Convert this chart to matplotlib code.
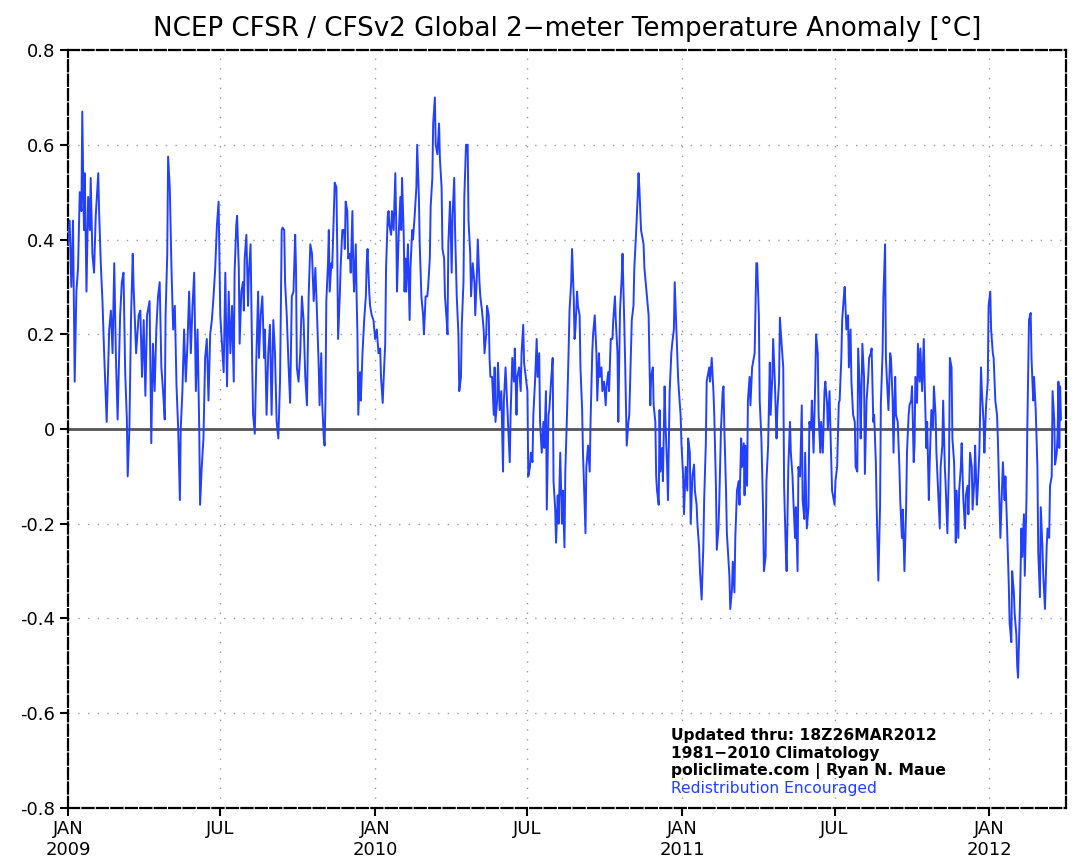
import matplotlib
matplotlib.use("Agg")
import matplotlib.pyplot as plt
import pandas as pd

# day offsets from 2009-01-01 and global 2 m temperature anomaly [degC]
days = [
    0, 2, 4, 6, 8, 10, 12, 14, 16, 17, 19, 20, 22, 24, 26, 27, 29, 31, 33, 36,
    37, 39, 41, 43, 46, 49, 51, 53, 55, 57, 59, 62, 64, 66, 68, 70, 71, 73, 75, 77,
    78, 81, 84, 86, 88, 90, 92, 94, 97,
    99, 101, 103, 105, 107, 109, 111, 113, 115, 116, 118, 119, 121, 123, 125, 127, 129, 131, 133, 134,
    136, 138, 140, 142, 144, 146, 148, 150, 152, 154, 156, 157, 159, 161, 163, 165, 167, 169, 171, 173,
    175, 177, 179, 181, 183, 185, 187, 189, 191, 193, 195,
    197, 198, 200, 201, 203, 204, 206, 208, 209, 210, 212, 214, 215, 217, 219, 220, 222, 224, 226, 227,
    229, 231, 233, 234, 236, 238, 240, 242, 244, 246, 248, 250, 252, 254, 255, 257, 258, 260, 262, 264,
    266, 268, 270, 271, 272, 274, 276, 278, 280, 282, 284, 286, 288, 290, 292, 294, 296, 298, 299,
    301, 302, 304, 305, 306, 307, 309, 310, 311, 313, 314, 316, 317, 319, 320, 321, 323, 324, 326, 328,
    329, 330, 332, 333, 335, 336, 338, 339, 340, 342, 343, 344, 345, 347, 348, 350, 352, 354, 355, 356,
    358, 359, 361, 363, 365, 367, 369, 371, 372, 374, 375, 377, 378, 380, 381, 382, 384, 385, 387, 389,
    390, 391, 393, 395, 396, 397, 399, 400,
    401, 402, 404, 406, 407, 409, 410, 412, 414, 415, 417, 418, 420, 422, 423, 425, 427, 428, 430, 431,
    433, 434, 436, 437, 439, 441, 442, 444, 445, 447, 448, 450, 451, 452, 454, 456, 457, 459, 460, 462,
    464, 465, 467, 468, 470, 471, 473, 475, 476, 478, 479, 481, 483, 484, 486, 487, 489, 490, 492, 494,
    495, 497, 498, 500, 501,
    502, 504, 506, 507, 508, 510, 511, 513, 515, 517, 518, 520, 522, 523, 525, 526, 528, 530, 531, 533,
    534, 536, 538, 539, 541, 542, 544, 546, 547, 549, 550, 552, 553, 555, 557, 558, 560, 561, 563, 565,
    566, 568, 569, 571, 572, 574, 576, 577, 579, 580, 582, 583, 585, 587, 588, 590, 591, 593, 595, 596,
    598, 599, 601, 602,
    603, 605, 606, 608, 609, 611, 612, 614, 615, 616, 618, 620, 621, 623, 624, 626, 628, 629, 631, 632,
    634, 635, 637, 639, 640, 642, 643, 645, 647, 648, 650, 651, 653, 654, 656, 658, 659, 661, 662, 664,
    666, 667, 669, 670, 672, 673, 675, 677, 678, 679, 681, 682, 684, 685, 687, 688, 690, 692, 693, 695,
    696, 698, 699, 700, 702, 703,
    704, 706, 707, 709, 710, 712, 713, 715, 717, 718, 720, 721, 723, 725, 726, 728, 729, 731, 732, 734,
    736, 737, 739, 740, 742, 744, 745, 747, 748, 750, 751, 753, 755, 756, 758, 759, 760, 762, 763, 765,
    767, 768, 770, 771, 773, 774, 776, 778, 779, 780, 782, 783, 785, 786, 787, 789, 790, 792, 793, 795,
    797, 798, 800, 801, 803, 804,
    805, 807, 808, 810, 811, 813, 815, 816, 818, 819, 821, 822, 824, 826, 827, 829, 830, 832, 834, 835,
    837, 838, 840, 842, 843, 845, 846, 848, 850, 851, 853, 854, 856, 858, 859, 861, 862, 864, 865, 867,
    868, 870, 872, 873, 875, 876, 878, 880, 881, 883, 884, 886, 888, 889, 891, 892, 894, 895, 897, 899,
    900, 902, 903, 905,
    906, 908, 909, 911, 912, 914, 916, 917, 919, 920, 922, 923, 925, 927, 928, 930, 931, 933, 935, 936,
    938, 939, 941, 942, 944, 946, 947, 949, 951, 952, 954, 955, 957, 958, 960, 961, 963, 965, 966, 968,
    969, 971, 972, 973, 975, 977, 978, 980, 981, 983, 984, 986, 988, 989, 991, 992, 994, 996, 997, 999,
    1000, 1002, 1003, 1005, 1006,
    1007, 1009, 1010, 1012, 1013, 1015, 1017, 1018, 1020, 1021, 1023, 1024, 1026, 1028, 1029, 1031,
    1032, 1034, 1036, 1037, 1039, 1040, 1042, 1043, 1045, 1047, 1048, 1050, 1051, 1053, 1055, 1056,
    1058, 1059, 1061, 1062, 1064, 1066, 1067, 1069, 1070, 1072, 1074, 1075, 1077, 1078, 1080, 1081,
    1083, 1085, 1086, 1088, 1089, 1091, 1093, 1094, 1096, 1097, 1099, 1100, 1102, 1104, 1105,
    1108, 1110, 1111, 1113, 1114, 1116, 1118, 1119, 1121, 1122, 1124, 1125, 1127, 1128, 1129, 1131,
    1133, 1134, 1136, 1137, 1139, 1140, 1142, 1144, 1145, 1147, 1148, 1150, 1152, 1153, 1155, 1156,
    1158, 1159, 1161, 1163, 1164, 1166, 1167, 1169, 1170, 1172, 1173, 1175, 1176, 1177, 1178, 1179, 1180,
]

anomaly = [
    0.39, 0.44, 0.30, 0.44, 0.10, 0.29, 0.34, 0.50, 0.46, 0.67, 0.42, 0.54, 0.29, 0.49, 0.42, 0.53, 0.37, 0.33, 0.45, 0.54,
    0.46, 0.35, 0.27, 0.16, 0.015, 0.21, 0.25, 0.16, 0.35, 0.15, 0.02, 0.24, 0.31, 0.33, 0.12, 0.02, -0.10, 0.0, 0.24, 0.37,
    0.30, 0.16, 0.24, 0.25, 0.11, 0.23, 0.07, 0.24, 0.27,
    -0.03, 0.18, 0.08, 0.21, 0.28, 0.31, 0.13, 0.08, 0.02, 0.24, 0.37, 0.575, 0.51, 0.34, 0.21, 0.26, 0.09, 0.0, -0.15, 0.0,
    0.08, 0.21, 0.10, 0.18, 0.29, 0.16, 0.26, 0.33, 0.08, 0.21, 0.0, -0.16, -0.08, -0.02, 0.15, 0.19, 0.06, 0.20, 0.23, 0.28,
    0.34, 0.43, 0.48, 0.24, 0.18, 0.12, 0.33, 0.09, 0.29, 0.16, 0.26,
    0.10, 0.33, 0.43, 0.45, 0.34, 0.18, 0.29, 0.31, 0.25, 0.36, 0.41, 0.26, 0.33, 0.39, 0.13, 0.03, -0.01, 0.16, 0.29, 0.15,
    0.24, 0.28, 0.15, 0.21, 0.03, 0.16, 0.22, 0.03, 0.23, 0.16, 0.015, -0.02, 0.10, 0.42, 0.425, 0.42, 0.31, 0.24, 0.14, 0.055,
    0.28, 0.29, 0.41, 0.34, 0.13, 0.10, 0.16, 0.28, 0.23, 0.11, 0.05, 0.28, 0.39, 0.37, 0.27, 0.34, 0.24, 0.13, 0.05,
    0.16, 0.06, -0.02, -0.035, 0.06, 0.27, 0.35, 0.42, 0.29, 0.35, 0.34, 0.46, 0.52, 0.51, 0.38, 0.19, 0.28, 0.34, 0.42, 0.42,
    0.38, 0.48, 0.46, 0.36, 0.37, 0.33, 0.46, 0.34, 0.29, 0.39, 0.28, 0.20, 0.03, 0.12, 0.06, 0.16, 0.23, 0.28, 0.35, 0.38,
    0.29, 0.26, 0.24, 0.23, 0.19, 0.21, 0.16, 0.17, 0.11, 0.055, 0.10, 0.18, 0.34, 0.45, 0.46, 0.43, 0.41, 0.46, 0.42, 0.54,
    0.44, 0.29, 0.41, 0.49, 0.42, 0.53, 0.41, 0.29,
    0.36, 0.29, 0.39, 0.23, 0.34, 0.42, 0.40, 0.45, 0.51, 0.60, 0.49, 0.39, 0.28, 0.24, 0.20, 0.28, 0.28, 0.30, 0.36, 0.47,
    0.53, 0.645, 0.70, 0.60, 0.58, 0.645, 0.57, 0.51, 0.38, 0.36, 0.28, 0.23, 0.20, 0.39, 0.48, 0.33, 0.45, 0.53, 0.42, 0.28,
    0.20, 0.08, 0.11, 0.22, 0.31, 0.49, 0.60, 0.60, 0.44, 0.37, 0.28, 0.35, 0.31, 0.24, 0.33, 0.40, 0.31, 0.28, 0.25, 0.21,
    0.16, 0.20, 0.26, 0.24, 0.15,
    0.11, 0.11, 0.03, 0.13, 0.015, 0.06, 0.14, 0.04, 0.08, -0.09, 0.06, 0.13, 0.05, 0.015, -0.07, 0.03, 0.15, 0.10, 0.17, 0.03,
    0.11, 0.13, 0.08, 0.16, 0.22, 0.14, 0.11, 0.08, -0.10, -0.08, -0.05, -0.07, 0.03, 0.10, 0.19, 0.11, 0.16, 0.015, -0.05, 0.015,
    -0.04, 0.08, -0.17, 0.03, 0.04, 0.10, 0.15, -0.11, -0.17, -0.24, -0.14, -0.20, -0.05, -0.20, -0.13, -0.25, -0.09, 0.03, 0.17, 0.25,
    0.31, 0.38, 0.28, 0.19,
    0.21, 0.29, 0.26, 0.24, 0.13, 0.04, -0.05, -0.165, -0.22, -0.08, -0.035, -0.09, 0.015, 0.16, 0.20, 0.24, 0.16, 0.06, 0.16, 0.11,
    0.13, 0.08, 0.10, 0.05, 0.09, 0.12, 0.08, 0.19, 0.19, 0.23, 0.28, 0.23, 0.16, 0.015, 0.25, 0.32, 0.37, 0.23, 0.15, -0.035,
    0.015, 0.03, 0.16, 0.23, 0.26, 0.34, 0.41, 0.49, 0.54, 0.51, 0.42, 0.41, 0.39, 0.34, 0.30, 0.28, 0.24, 0.05, 0.11, 0.13,
    0.05, 0.015, -0.10, -0.13, -0.16, 0.04,
    -0.09, -0.04, -0.11, 0.09, 0.015, -0.08, -0.15, 0.08, 0.16, 0.18, 0.21, 0.31, 0.21, 0.11, 0.08, 0.03, -0.03, -0.10, -0.18, -0.08,
    -0.13, -0.02, -0.05, -0.20, -0.10, -0.075, -0.13, -0.16, -0.20, -0.25, -0.30, -0.36, -0.25, -0.15, -0.03, 0.10, 0.11, 0.13, 0.10, 0.15,
    0.08, 0.03, -0.12, -0.255, -0.21, -0.15, 0.0, 0.08, 0.09, 0.0, -0.13, -0.22, -0.28, -0.31, -0.38, -0.34, -0.28, -0.345, -0.23, -0.13,
    -0.11, -0.16, -0.02, -0.08, -0.03, -0.14,
    -0.035, -0.12, 0.06, 0.11, 0.05, 0.13, 0.15, 0.16, 0.35, 0.35, 0.24, 0.06, -0.02, -0.17, -0.30, -0.27, -0.11, -0.035, 0.14, 0.03,
    0.11, 0.19, 0.10, -0.02, 0.04, 0.10, 0.235, 0.18, 0.13, -0.12, -0.255, -0.30, -0.08, 0.015, -0.05, -0.10, -0.15, -0.23, -0.165, -0.30,
    -0.08, -0.10, 0.05, -0.15, -0.19, -0.05, -0.21, -0.165, 0.015, 0.0, 0.06, -0.05, 0.10, 0.20, 0.16, 0.03, -0.05, 0.015, -0.05, 0.08,
    0.10, 0.055, 0.0, 0.08,
    0.0, -0.13, -0.14, -0.16, -0.11, -0.08, 0.055, 0.06, 0.15, 0.23, 0.28, 0.30, 0.21, 0.24, 0.13, 0.21, 0.10, 0.03, 0.015, -0.08,
    -0.09, 0.17, 0.08, -0.02, 0.18, 0.11, -0.095, 0.06, 0.11, 0.15, 0.16, 0.17, 0.015, 0.03, -0.07, -0.165, -0.32, -0.165, 0.055, 0.16,
    0.28, 0.39, 0.15, 0.11, 0.04, 0.16, 0.15, 0.06, -0.05, 0.11, 0.03, 0.015, -0.08, -0.15, -0.23, -0.17, -0.30, -0.165, -0.05, 0.03,
    0.05, 0.06, 0.09, -0.07, -0.035,
    0.11, 0.055, 0.18, 0.10, 0.17, 0.08, 0.19, 0.10, -0.04, 0.015, -0.15, -0.07, 0.04, 0.0, 0.09, 0.03,
    -0.05, -0.13, -0.21, -0.08, -0.035, 0.06, -0.08, -0.12, -0.22, -0.07, 0.15, 0.13, -0.02, -0.07, -0.24, -0.13,
    -0.23, -0.13, -0.08, -0.03, -0.15, -0.21, -0.14, -0.12, -0.18, -0.05, -0.08, -0.17, -0.11, -0.035, -0.16, -0.13,
    -0.05, 0.13, 0.08, 0.015, -0.05, 0.05, 0.10, 0.26, 0.29, 0.21, 0.16, 0.15, 0.06, 0.03, -0.02,
    -0.23, -0.12, -0.07, -0.15, -0.10, -0.21, -0.33, -0.41, -0.45, -0.30, -0.345, -0.39, -0.435, -0.50, -0.525, -0.39,
    -0.21, -0.27, -0.18, -0.31, -0.15, 0.0, 0.23, 0.245, 0.15, 0.06, 0.11, 0.04, -0.08, -0.26, -0.355, -0.165,
    -0.25, -0.31, -0.38, -0.25, -0.21, -0.23, -0.12, -0.10, 0.08, 0.02, -0.075, -0.05, -0.01, 0.10, -0.04, 0.09, 0.02,
]

y_ticks = [0.8, 0.6, 0.4, 0.2, 0, -0.2, -0.4, -0.6, -0.8]
x_tick_dates = ["2009-01-01", "2009-07-01", "2010-01-01", "2010-07-01",
                "2011-01-01", "2011-07-01", "2012-01-01"]
x_tick_labels = ["JAN\n2009", "JUL", "JAN\n2010", "JUL", "JAN\n2011", "JUL", "JAN\n2012"]

info_lines = ["Updated thru: 18Z26MAR2012", "1981\u22122010 Climatology",
              "policlimate.com | Ryan N. Maue"]
info_blue = "Redistribution Encouraged"

n = min(len(days), len(anomaly))
dates = pd.Timestamp("2009-01-01") + pd.to_timedelta(days[:n], unit="D")

fig = plt.figure(figsize=(10.77, 8.58), dpi=100)
ax = fig.add_axes([0.0631, 0.0583, 0.9267, 0.8834])

ax.plot(dates, anomaly[:n], color="#2340ff", lw=1.4, zorder=3)
ax.axhline(0, color="#555555", lw=2, zorder=2)

ax.set_xlim(pd.Timestamp("2009-01-01"), pd.Timestamp("2012-04-01"))
ax.set_ylim(-0.8, 0.8)

ax.set_yticks(y_ticks)
ax.set_yticklabels([("%g" % t) if t != 0 else "0" for t in y_ticks])
ax.set_xticks(pd.to_datetime(x_tick_dates))
ax.set_xticklabels(x_tick_labels)

ax.grid(True, color="#9a9a9a", linestyle=(0, (1, 6)), lw=1.0, zorder=1)
ax.tick_params(axis="both", direction="out", length=6, width=1.5, labelsize=13, pad=3)
for s in ax.spines.values():
    s.set_linewidth(1.6)
    s.set_linestyle((0, (5, 1.5)))

ax.set_title("NCEP CFSR / CFSv2 Global 2\u2212meter Temperature Anomaly [\u00b0C]",
             fontsize=18.8, pad=10)

for i, line in enumerate(info_lines):
    ax.text(0.604, 0.095 - i * 0.023, line, transform=ax.transAxes,
            fontsize=11.2, fontweight="bold", ha="left", va="center")
ax.text(0.604, 0.095 - 3 * 0.023, info_blue, transform=ax.transAxes,
        fontsize=11.2, color="#2340ff", ha="left", va="center")

fig.savefig("out.png", dpi=100, facecolor="white")
